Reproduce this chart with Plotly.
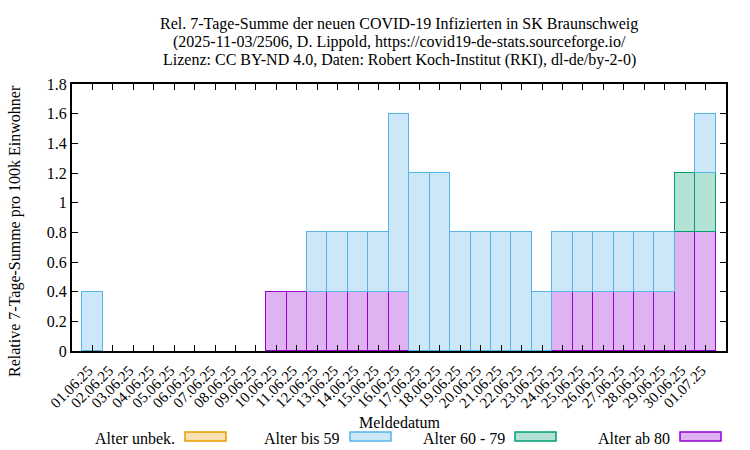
import plotly.graph_objects as go

dates = ["01.06.25", "02.06.25", "03.06.25", "04.06.25", "05.06.25", "06.06.25",
         "07.06.25", "08.06.25", "09.06.25", "10.06.25", "11.06.25", "12.06.25",
         "13.06.25", "14.06.25", "15.06.25", "16.06.25", "17.06.25", "18.06.25",
         "19.06.25", "20.06.25", "21.06.25", "22.06.25", "23.06.25", "24.06.25",
         "25.06.25", "26.06.25", "27.06.25", "28.06.25", "29.06.25", "30.06.25",
         "01.07.25"]
ab80 = [0, 0, 0, 0, 0, 0, 0, 0, 0, 0.4, 0.4, 0.4, 0.4, 0.4, 0.4, 0.4, 0, 0, 0, 0,
        0, 0, 0, 0.4, 0.4, 0.4, 0.4, 0.4, 0.4, 0.8, 0.8]
a60_79 = [0] * 29 + [0.4, 0.4]
bis59 = [0.4, 0, 0, 0, 0, 0, 0, 0, 0, 0, 0, 0.4, 0.4, 0.4, 0.4, 1.2, 1.2, 1.2,
         0.8, 0.8, 0.8, 0.8, 0.4, 0.4, 0.4, 0.4, 0.4, 0.4, 0.4, 0, 0.4]
unbek = [0] * 31
yticks = [0, 0.2, 0.4, 0.6, 0.8, 1, 1.2, 1.4, 1.6, 1.8]
yticktext = ["0", "0.2", "0.4", "0.6", "0.8", "1", "1.2", "1.4", "1.6", "1.8"]

FONT = "Liberation Serif, Times New Roman, DejaVu Serif, serif"
series = [
    ("Alter ab 80", ab80, "#dfb3f2", "#9400d3"),
    ("Alter 60 - 79", a60_79, "#b3e2d5", "#009e73"),
    ("Alter bis 59", bis59, "#cce8f8", "#56b4e9"),
    ("Alter unbek.", unbek, "#f8e2b3", "#e69f00"),
]
x = list(range(len(dates)))

fig = go.Figure()
for name, vals, fill, line in series:
    yv = [v if v else None for v in vals]
    fig.add_trace(go.Bar(x=x, y=yv, name=name,
                         marker=dict(color=fill, line=dict(color=line, width=1.5)),
                         showlegend=False, hoverinfo="skip"))

fig.update_layout(
    width=750, height=450,
    margin=dict(l=72, r=24, t=84, b=99),
    barmode="stack", bargap=0,
    plot_bgcolor="white", paper_bgcolor="white",
    font=dict(family=FONT, size=16, color="black"),
    showlegend=False,
)
fig.update_xaxes(
    range=[-1, 31], tickvals=x, ticktext=dates, tickangle=-45,
    ticks="inside", ticklen=6, tickwidth=1.2, tickcolor="black",
    showline=True, linewidth=2, linecolor="black", mirror="ticks",
    showgrid=False, zeroline=False, tickfont=dict(size=15),
    ticklabelshift=-4, ticklabelstandoff=3,
)
fig.update_yaxes(
    range=[0, 1.8], tickvals=yticks, ticktext=yticktext,
    ticks="inside", ticklen=6, tickwidth=1.2, tickcolor="black",
    showline=True, linewidth=2, linecolor="black", mirror="ticks",
    showgrid=False, zeroline=False, tickfont=dict(size=16),
)

titles = ["Rel. 7-Tage-Summe der neuen COVID-19 Infizierten in SK Braunschweig",
          "(2025-11-03/2506, D. Lippold, https://covid19-de-stats.sourceforge.io/",
          "Lizenz: CC BY-ND 4.0, Daten: Robert Koch-Institut (RKI), dl-de/by-2-0)"]
for i, t in enumerate(titles):
    fig.add_annotation(text=t, xref="paper", yref="paper", x=0.5, y=1 + (60 - 18 * i) / 267,
                       showarrow=False, xanchor="center", yanchor="middle", font=dict(size=16))

fig.add_annotation(text="Relative 7-Tage-Summe pro 100k Einwohner", xref="paper", yref="paper",
                   x=-57 / 654, y=(351 - 231) / 267, textangle=-90, showarrow=False,
                   xanchor="center", yanchor="middle", font=dict(size=16))
fig.add_annotation(text="Meldedatum", xref="paper", yref="paper", x=0.5, y=(351 - 422) / 267,
                   showarrow=False, xanchor="center", yanchor="middle", font=dict(size=16))

# legend (text left of sample box)
legend_items = [("Alter unbek.", 177, 185, "#f8e2b3", "#e69f00"),
                ("Alter bis 59", 342, 350, "#cce8f8", "#56b4e9"),
                ("Alter 60 - 79", 507, 515, "#b3e2d5", "#009e73"),
                ("Alter ab 80", 672, 680, "#dfb3f2", "#9400d3")]
for name, tx, bx, fill, line in legend_items:
    fig.add_annotation(text=name, xref="paper", yref="paper", x=(tx - 72) / 654,
                       y=(351 - 438) / 267, showarrow=False, xanchor="right", yanchor="middle",
                       font=dict(size=16))
    fig.add_shape(type="rect", xref="paper", yref="paper", x0=(bx - 72) / 654, x1=(bx + 41 - 72) / 654,
                  y0=(351 - 441) / 267, y1=(351 - 432) / 267, fillcolor=fill,
                  line=dict(color=line, width=1.5))

fig.write_html("out.html", config={"displayModeBar": False},
               post_script="document.body.style.margin='0';")
